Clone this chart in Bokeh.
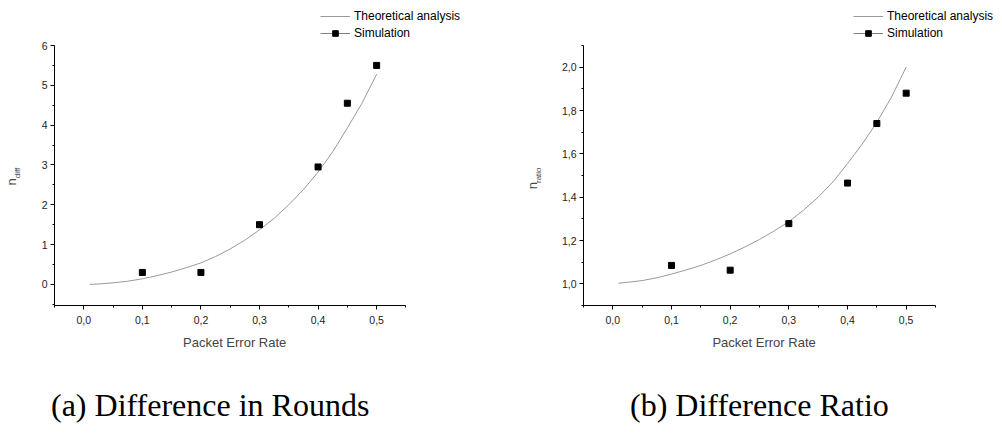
from bokeh.plotting import figure
from bokeh.layouts import row, column
from bokeh.models import (Range1d, SingleIntervalTicker, FixedTicker, CustomJSTickFormatter,
                          Legend, LegendItem, LinearAxis, Div)
from bokeh.embed import file_html
from bokeh.resources import INLINE

# ---------------- data ----------------
per_sim = [0.1, 0.2, 0.3, 0.4, 0.45, 0.5]
diff_sim = [0.3, 0.3, 1.5, 2.95, 4.55, 5.5]
ratio_sim = [1.085, 1.063, 1.278, 1.465, 1.74, 1.88]

per_theory = [0.01, 0.025, 0.05, 0.075, 0.1, 0.125, 0.15, 0.175, 0.2, 0.225, 0.25,
              0.275, 0.3, 0.325, 0.35, 0.375, 0.4, 0.425, 0.45, 0.475, 0.5]
diff_theory = [0.0, 0.01, 0.04, 0.08, 0.14, 0.22, 0.31, 0.42, 0.54, 0.70, 0.89,
               1.11, 1.37, 1.66, 2.0, 2.38, 2.82, 3.33, 3.93, 4.55, 5.28]
ratio_theory = [1.003, 1.007, 1.015, 1.028, 1.045, 1.064, 1.085, 1.11, 1.138, 1.17, 1.205,
                1.244, 1.287, 1.34, 1.40, 1.47, 1.555, 1.645, 1.745, 1.862, 2.0]

x_label = "Packet Error Rate"
legend_labels = ["Theoretical analysis", "Simulation"]
captions = ["(a) Difference in Rounds", "(b) Difference Ratio"]

SANS = "Liberation Sans"
SERIF = "Liberation Serif"
CURVE = "#999999"
NB = "\u00a0"

comma1 = CustomJSTickFormatter(code="return tick.toFixed(1).replace('.', ',');")
comma0 = CustomJSTickFormatter(code="return tick.toFixed(0);")


def make_panel(ys_theory, ys_sim, y_lo, y_hi, y_top_extra, y_interval, y_fmt,
               bl, x_hi, xlab, sub_text, n_text, sub_standoff, n_standoff, leg_x):
    p = figure(width=501, height=380, output_backend="svg", toolbar_location=None,
               x_range=Range1d(-0.05, x_hi), y_range=Range1d(y_lo, y_top_extra),
               min_border_left=bl, min_border_right=0,
               min_border_top=0, min_border_bottom=75)
    p.outline_line_color = None
    p.grid.visible = False

    for ax in (p.xaxis[0], p.yaxis[0]):
        ax.axis_line_color = "black"
        ax.major_tick_line_color = "black"
        ax.minor_tick_line_color = "black"
        ax.major_tick_in = 0
        ax.major_tick_out = 4
        ax.minor_tick_in = 0
        ax.minor_tick_out = 2
        ax.major_label_text_font = SANS
        ax.major_label_text_font_size = "10.5px"
        ax.major_label_text_color = "#222222"

    xa = p.xaxis[0]
    xa.bounds = (-0.05, 0.55)
    xa.ticker = SingleIntervalTicker(interval=0.1, num_minor_ticks=2)
    xa.formatter = comma1
    xa.major_label_standoff = 6
    xa.axis_label = xlab
    xa.axis_label_text_font = SANS
    xa.axis_label_text_font_size = "13px"
    xa.axis_label_text_font_style = "normal"
    xa.axis_label_standoff = 8

    ya = p.yaxis[0]
    ya.bounds = (y_lo, y_hi)
    ya.ticker = SingleIntervalTicker(interval=y_interval, num_minor_ticks=2)
    ya.formatter = y_fmt
    ya.major_label_standoff = 3
    ya.axis_label = sub_text
    ya.axis_label_text_font = SANS
    ya.axis_label_text_font_size = "8px"
    ya.axis_label_text_font_style = "normal"
    ya.axis_label_standoff = sub_standoff

    na = LinearAxis(ticker=FixedTicker(ticks=[]), bounds=(y_lo, y_hi),
                    axis_line_color=None, major_tick_line_color=None,
                    minor_tick_line_color=None, axis_label=n_text,
                    axis_label_text_font=SANS, axis_label_text_font_size="13px",
                    axis_label_text_font_style="normal", axis_label_standoff=n_standoff)
    p.add_layout(na, "left")

    curve = p.line(per_theory, ys_theory, line_color=CURVE, line_width=1)
    proxy = p.line(x=[float("nan")], y=[float("nan")], line_color="#808080", line_width=1)
    pts = p.scatter(per_sim, ys_sim, marker="square", size=6,
                    fill_color="black", line_color="black")

    legend = Legend(items=[LegendItem(label=legend_labels[0], renderers=[curve]),
                           LegendItem(label=legend_labels[1], renderers=[proxy, pts])],
                    location=(leg_x, 265),
                    glyph_width=30, glyph_height=14, label_height=14,
                    label_standoff=4, padding=0, spacing=3, margin=0,
                    border_line_color=None, background_fill_alpha=0,
                    label_text_font=SANS, label_text_font_size="12px",
                    label_text_color="black")
    p.add_layout(legend, "center")
    return p


def caption(text, pad_left):
    return Div(text=text, width=501, height=57,
               styles={"font-family": SERIF, "font-size": "32px", "line-height": "32px",
                       "color": "black", "padding-left": f"{pad_left}px",
                       "padding-top": "4px", "white-space": "nowrap",
                       "box-sizing": "border-box"})


# frames: left x 52..501, right x 583..1002 (page px); both y 0..305
p1 = make_panel(diff_theory, diff_sim, -0.53, 6.0, 6.0 + 45 * 6.53 / 260, 1, comma0,
                52, 0.55 + 96 * 0.6 / 353, x_label + NB * 24,
                "diff" + NB * 18, "n" + NB * 16, 17, -9, 266)
p2 = make_panel(ratio_theory, ratio_sim, 0.9, 2.1, 2.1 + 45 * 1.2 / 260, 0.2, comma1,
                82, 0.55 + 67 * 0.6 / 352, x_label + NB * 16,
                "ratio" + NB * 20, "n" + NB * 18, 16, -9, 270)

layout = column(row(p1, p2), row(caption(captions[0], 46), caption(captions[1], 114)))
open("out.html", "w").write(file_html(layout, INLINE))
